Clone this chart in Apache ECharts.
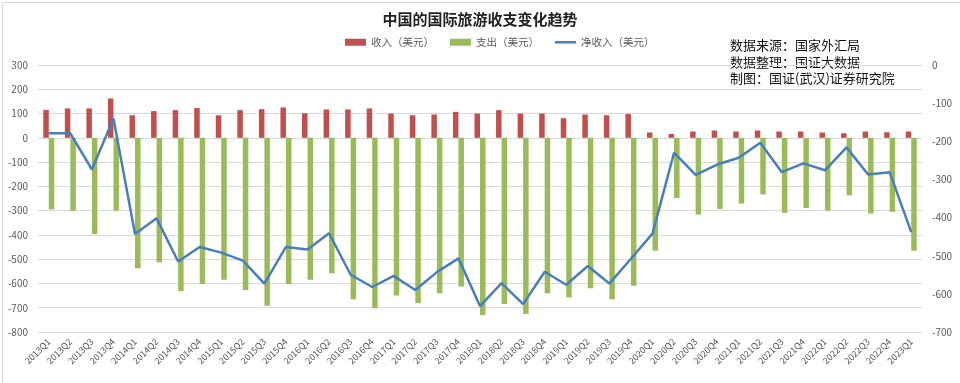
<!DOCTYPE html>
<html>
<head>
<meta charset="utf-8">
<script src="https://cdn.jsdelivr.net/npm/echarts@6/dist/echarts.min.js"></script>
<style>
html,body{margin:0;padding:0;background:#fff;}
#chart{width:960px;height:383px;}
</style>
</head>
<body>
<div id="chart"></div>
<script>
const categories = ['2013Q1','2013Q2','2013Q3','2013Q4','2014Q1','2014Q2','2014Q3','2014Q4','2015Q1','2015Q2','2015Q3','2015Q4','2016Q1','2016Q2','2016Q3','2016Q4','2017Q1','2017Q2','2017Q3','2017Q4','2018Q1','2018Q2','2018Q3','2018Q4','2019Q1','2019Q2','2019Q3','2019Q4','2020Q1','2020Q2','2020Q3','2020Q4','2021Q1','2021Q2','2021Q3','2021Q4','2022Q1','2022Q2','2022Q3','2022Q4','2023Q1'];
const income = [115,121,121,162,93,110,114,123,93,114,118,125,101,117,117,121,100,93,96,107,100,114,100,100,81,96,93,98,22,16,26,30,26,30,26,26,22,19,26,23,26];
const expense = [-295,-301,-397,-300,-537,-513,-631,-602,-585,-627,-692,-602,-585,-558,-665,-702,-650,-681,-640,-613,-730,-685,-726,-640,-658,-620,-665,-609,-465,-248,-316,-293,-271,-233,-309,-289,-300,-237,-312,-305,-465];
const netIncome = [-179,-179,-274,-140,-443,-402,-515,-477,-492,-513,-573,-477,-484,-441,-550,-582,-553,-590,-543,-507,-632,-572,-627,-542,-576,-527,-573,-508,-442,-230,-288,-261,-243,-204,-281,-258,-276,-216,-287,-281,-438];
const leftTicks = {min:-800, max:300, interval:100};
const rightTicks = {min:-700, max:0, interval:100};
const notes = ['数据来源：国家外汇局','数据整理：国证大数据','制图：国证(武汉)证券研究院'];

const chart = echarts.init(document.getElementById('chart'), null, {renderer:'canvas'});
const font = '"Noto Sans CJK SC","Microsoft YaHei",sans-serif';
chart.setOption({
  animation:false,
  backgroundColor:'#ffffff',
  textStyle:{fontFamily:font},
  title:{
    text:'中国的国际旅游收支变化趋势',
    left:'center', top:7,
    textStyle:{fontSize:15, fontWeight:'bold', color:'#222', fontFamily:font}
  },
  legend:{
    top:32, left:340,
    itemWidth:21, itemHeight:7, itemGap:16,
    textStyle:{fontSize:10.5, color:'#595959', fontFamily:font},
    data:[
      {name:'收入（美元）', icon:'rect'},
      {name:'支出（美元）', icon:'rect'},
      {name:'净收入（美元）', icon:'path://M0,0H20V2.5H0Z'}
    ]
  },
  grid:{left:38, right:38, top:65, bottom:51, containLabel:false},
  graphic:[
    {type:'rect', left:0, top:0, shape:{x:0.5,y:0.5,width:959,height:382}, style:{fill:'none', stroke:'#d9d9d9', lineWidth:1}, silent:true},
    {type:'text', left:730, top:39, style:{text:notes[0], font:'13px '+font, fill:'#111'}},
    {type:'text', left:730, top:56, style:{text:notes[1], font:'13px '+font, fill:'#111'}},
    {type:'text', left:730, top:72, style:{text:notes[2], font:'13px '+font, fill:'#111'}}
  ],
  xAxis:{
    type:'category', data:categories,
    axisLine:{show:false}, axisTick:{show:false},
    axisLabel:{rotate:45, interval:0, fontSize:9, color:'#595959', margin:8}
  },
  yAxis:[
    {type:'value', min:leftTicks.min, max:leftTicks.max, interval:leftTicks.interval,
     axisLine:{show:false}, axisTick:{show:false},
     axisLabel:{fontSize:10, color:'#595959', margin:10},
     splitLine:{lineStyle:{color:'#d9d9d9', width:1}}},
    {type:'value', min:rightTicks.min, max:rightTicks.max, interval:rightTicks.interval,
     axisLine:{show:false}, axisTick:{show:false},
     axisLabel:{fontSize:10, color:'#595959', margin:10},
     splitLine:{show:false}}
  ],
  series:[
    {name:'收入（美元）', type:'bar', data:income, barWidth:5.5, barGap:'0%',
     itemStyle:{color:'#c0504d'}},
    {name:'支出（美元）', type:'bar', data:expense, barWidth:5.5, barGap:'0%',
     itemStyle:{color:'#9bbb59'}},
    {name:'净收入（美元）', type:'line', yAxisIndex:1, data:netIncome,
     symbol:'none', showSymbol:false,
     lineStyle:{color:'#4a7ebb', width:2.5}, itemStyle:{color:'#4a7ebb'}}
  ]
});
</script>
</body>
</html>
